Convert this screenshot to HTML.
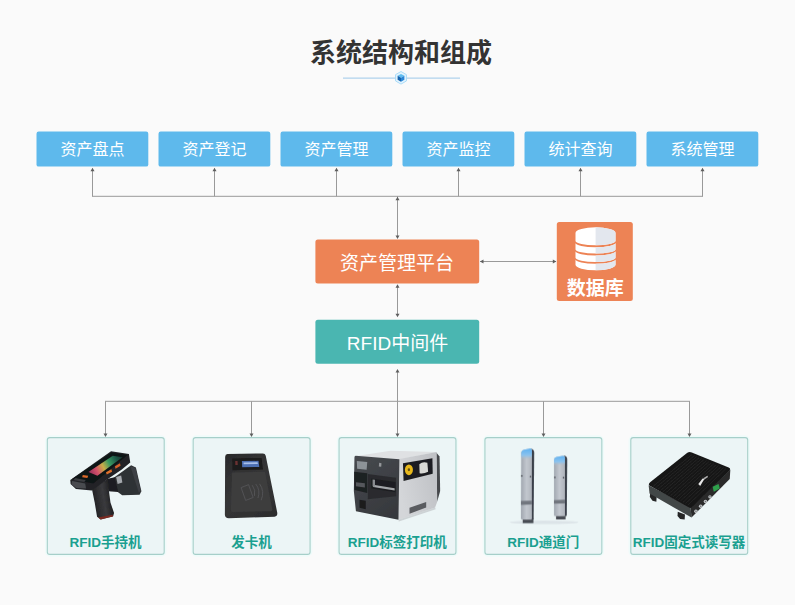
<!DOCTYPE html>
<html lang="zh"><head><meta charset="utf-8"><title>系统结构和组成</title>
<style>
html,body{margin:0;padding:0}
body{width:795px;height:605px;background:#fafafa;position:relative;overflow:hidden;font-family:"Liberation Sans",sans-serif;color:transparent}
h1{position:absolute;left:301px;top:36px;width:200px;margin:0;font-size:25px;line-height:34px;text-align:center;font-weight:bold;white-space:nowrap}
.box{position:absolute;box-sizing:border-box;border-radius:3px;text-align:center;white-space:nowrap;overflow:hidden}
  .top{font-size:16px;line-height:36px}
.dev{position:absolute;box-sizing:border-box;width:118px;height:118px;text-align:center;font-size:13.5px;font-weight:bold;white-space:nowrap;overflow:hidden}
.dev span{position:absolute;left:0;right:0;top:96px;line-height:18px}
svg{position:absolute;left:0;top:0}
svg text{font-family:"Liberation Sans","Noto Sans CJK SC",sans-serif}
</style></head>
<body>
<h1>系统结构和组成</h1>
<div class="box top" style="left:36.5px;top:131px;width:112px;height:36px;">资产盘点</div>
<div class="box top" style="left:158.5px;top:131px;width:112px;height:36px;">资产登记</div>
<div class="box top" style="left:280.5px;top:131px;width:112px;height:36px;">资产管理</div>
<div class="box top" style="left:402.5px;top:131px;width:112px;height:36px;">资产监控</div>
<div class="box top" style="left:524.5px;top:131px;width:112px;height:36px;">统计查询</div>
<div class="box top" style="left:646.5px;top:131px;width:112px;height:36px;">系统管理</div>
<div class="box" style="left:315.5px;top:239.5px;width:164px;height:44px;font-size:19px;line-height:44px;">资产管理平台</div>
<div class="box" style="left:315.5px;top:319.5px;width:164px;height:44px;font-size:19px;line-height:44px;">RFID中间件</div>
<div class="box" style="left:556.5px;top:222px;width:76.5px;height:79px;font-size:19px;line-height:30px;padding-top:0"><span style="position:absolute;left:0;right:0;top:50px">数据库</span></div>
<div class="dev" style="left:46.8px;top:436.5px;"><span>RFID手持机</span></div>
<div class="dev" style="left:192.7px;top:436.5px;"><span>发卡机</span></div>
<div class="dev" style="left:338.6px;top:436.5px;"><span>RFID标签打印机</span></div>
<div class="dev" style="left:484.4px;top:436.5px;"><span>RFID通道门</span></div>
<div class="dev" style="left:630.3px;top:436.5px;"><span>RFID固定式读写器</span></div>
<svg width="795" height="605" viewBox="0 0 795 605">
<defs><clipPath id="dbr"><rect x="595.6" y="220" width="30" height="60"/></clipPath></defs>
<rect x="36.5" y="131.5" width="111.8" height="35.1" rx="2.2" fill="#5eb9ec"/>
<rect x="158.5" y="131.5" width="111.8" height="35.1" rx="2.2" fill="#5eb9ec"/>
<rect x="280.5" y="131.5" width="111.8" height="35.1" rx="2.2" fill="#5eb9ec"/>
<rect x="402.5" y="131.5" width="111.8" height="35.1" rx="2.2" fill="#5eb9ec"/>
<rect x="524.5" y="131.5" width="111.8" height="35.1" rx="2.2" fill="#5eb9ec"/>
<rect x="646.5" y="131.5" width="111.8" height="35.1" rx="2.2" fill="#5eb9ec"/>
<rect x="315.4" y="239.6" width="163.8" height="43.8" rx="2.5" fill="#ed8355"/>
<rect x="315.4" y="319.7" width="163.8" height="44" rx="2.5" fill="#4ab6b1"/>
<rect x="556.8" y="222.1" width="76" height="79" rx="2.5" fill="#ed8355"/>
<rect x="47.30" y="437.6" width="116.9" height="116.8" rx="3" fill="none" stroke="#effbfa" stroke-width="4.5"/>
<rect x="47.30" y="437.6" width="116.9" height="116.8" rx="2.5" fill="#ecf5f6" stroke="#a6cfc9" stroke-width="1.1"/>
<rect x="193.18" y="437.6" width="116.9" height="116.8" rx="3" fill="none" stroke="#effbfa" stroke-width="4.5"/>
<rect x="193.18" y="437.6" width="116.9" height="116.8" rx="2.5" fill="#ecf5f6" stroke="#a6cfc9" stroke-width="1.1"/>
<rect x="339.05" y="437.6" width="116.9" height="116.8" rx="3" fill="none" stroke="#effbfa" stroke-width="4.5"/>
<rect x="339.05" y="437.6" width="116.9" height="116.8" rx="2.5" fill="#ecf5f6" stroke="#a6cfc9" stroke-width="1.1"/>
<rect x="484.93" y="437.6" width="116.9" height="116.8" rx="3" fill="none" stroke="#effbfa" stroke-width="4.5"/>
<rect x="484.93" y="437.6" width="116.9" height="116.8" rx="2.5" fill="#ecf5f6" stroke="#a6cfc9" stroke-width="1.1"/>
<rect x="630.80" y="437.6" width="116.9" height="116.8" rx="3" fill="none" stroke="#effbfa" stroke-width="4.5"/>
<rect x="630.80" y="437.6" width="116.9" height="116.8" rx="2.5" fill="#ecf5f6" stroke="#a6cfc9" stroke-width="1.1"/>
<text x="401" y="62" font-size="26" font-weight="bold" fill="#333333" text-anchor="middle">系统结构和组成</text>
<line x1="343" y1="78.1" x2="460" y2="78.1" stroke="#afd2ec" stroke-width="1.2"/>
<polygon points="401.00,71.50 406.46,74.65 406.46,80.95 401.00,84.10 395.54,80.95 395.54,74.65" fill="#e2f3fd" stroke="#a4d9f7" stroke-width="0.9"/>
<polygon points="401.00,73.90 404.38,75.85 401.00,77.80 397.62,75.85" fill="#5fbdf0"/>
<polygon points="397.62,75.85 401.00,77.80 401.00,81.70 397.62,79.75" fill="#1763ad"/>
<polygon points="401.00,77.80 404.38,75.85 404.38,79.75 401.00,81.70" fill="#2a86d6"/>
<text x="92.5" y="155" font-size="16" fill="#ffffff" text-anchor="middle">资产盘点</text>
<text x="214.5" y="155" font-size="16" fill="#ffffff" text-anchor="middle">资产登记</text>
<text x="336.5" y="155" font-size="16" fill="#ffffff" text-anchor="middle">资产管理</text>
<text x="458.5" y="155" font-size="16" fill="#ffffff" text-anchor="middle">资产监控</text>
<text x="580.5" y="155" font-size="16" fill="#ffffff" text-anchor="middle">统计查询</text>
<text x="702.5" y="155" font-size="16" fill="#ffffff" text-anchor="middle">系统管理</text>
<line x1="92.5" y1="168.5" x2="92.5" y2="196.3" stroke="#999999" stroke-width="1"/>
<polygon points="92.50,167.80 90.50,171.30 94.50,171.30" fill="#5e5e5e"/>
<line x1="214.5" y1="168.5" x2="214.5" y2="196.3" stroke="#999999" stroke-width="1"/>
<polygon points="214.50,167.80 212.50,171.30 216.50,171.30" fill="#5e5e5e"/>
<line x1="336.5" y1="168.5" x2="336.5" y2="196.3" stroke="#999999" stroke-width="1"/>
<polygon points="336.50,167.80 334.50,171.30 338.50,171.30" fill="#5e5e5e"/>
<line x1="458.5" y1="168.5" x2="458.5" y2="196.3" stroke="#999999" stroke-width="1"/>
<polygon points="458.50,167.80 456.50,171.30 460.50,171.30" fill="#5e5e5e"/>
<line x1="580.5" y1="168.5" x2="580.5" y2="196.3" stroke="#999999" stroke-width="1"/>
<polygon points="580.50,167.80 578.50,171.30 582.50,171.30" fill="#5e5e5e"/>
<line x1="702.5" y1="168.5" x2="702.5" y2="196.3" stroke="#999999" stroke-width="1"/>
<polygon points="702.50,167.80 700.50,171.30 704.50,171.30" fill="#5e5e5e"/>
<line x1="92" y1="196.3" x2="703" y2="196.3" stroke="#999999" stroke-width="1"/>
<line x1="397.5" y1="196.3" x2="397.5" y2="237" stroke="#999999" stroke-width="1"/>
<polygon points="397.50,196.70 395.50,200.20 399.50,200.20" fill="#5e5e5e"/>
<polygon points="397.50,238.90 395.50,235.40 399.50,235.40" fill="#5e5e5e"/>
<line x1="397.5" y1="286" x2="397.5" y2="315" stroke="#999999" stroke-width="1"/>
<polygon points="397.50,284.20 395.50,287.70 399.50,287.70" fill="#5e5e5e"/>
<polygon points="397.50,317.20 395.50,313.70 399.50,313.70" fill="#5e5e5e"/>
<line x1="480" y1="261.5" x2="556" y2="261.5" stroke="#999999" stroke-width="1"/>
<polygon points="480.00,261.50 483.50,259.50 483.50,263.50" fill="#5e5e5e"/>
<polygon points="556.30,261.50 552.80,259.50 552.80,263.50" fill="#5e5e5e"/>
<line x1="397.5" y1="371" x2="397.5" y2="401.3" stroke="#999999" stroke-width="1"/>
<polygon points="397.50,368.90 395.50,372.40 399.50,372.40" fill="#5e5e5e"/>
<line x1="105" y1="401.3" x2="690" y2="401.3" stroke="#999999" stroke-width="1"/>
<line x1="105.5" y1="401.3" x2="105.5" y2="434" stroke="#999999" stroke-width="1"/>
<polygon points="105.50,437.00 103.50,433.50 107.50,433.50" fill="#5e5e5e"/>
<line x1="251.5" y1="401.3" x2="251.5" y2="434" stroke="#999999" stroke-width="1"/>
<polygon points="251.50,437.00 249.50,433.50 253.50,433.50" fill="#5e5e5e"/>
<line x1="397.5" y1="401.3" x2="397.5" y2="434" stroke="#999999" stroke-width="1"/>
<polygon points="397.50,437.00 395.50,433.50 399.50,433.50" fill="#5e5e5e"/>
<line x1="543.5" y1="401.3" x2="543.5" y2="434" stroke="#999999" stroke-width="1"/>
<polygon points="543.50,437.00 541.50,433.50 545.50,433.50" fill="#5e5e5e"/>
<line x1="689.5" y1="401.3" x2="689.5" y2="434" stroke="#999999" stroke-width="1"/>
<polygon points="689.50,437.00 687.50,433.50 691.50,433.50" fill="#5e5e5e"/>
<text x="397" y="269.5" font-size="19" fill="#ffffff" text-anchor="middle">资产管理平台</text>
<text x="397.5" y="350.3" font-size="19" fill="#ffffff" text-anchor="middle">RFID中间件</text>
<text x="595.3" y="294.8" font-size="19" font-weight="bold" fill="#ffffff" text-anchor="middle">数据库</text>
<path fill="#ffffff" d="M575.5 232.9a20.0 5.6 0 0 1 40.0 0V241.1a20.0 4.2 0 0 1 -40.0 0zM575.5 243.0a20.0 4.2 0 0 0 40.0 0V249.4a20.0 4.2 0 0 1 -40.0 0zM575.5 251.3a20.0 4.2 0 0 0 40.0 0V257.7a20.0 4.2 0 0 1 -40.0 0zM575.5 259.6a20.0 4.2 0 0 0 40.0 0V264.8a20.0 5.5 0 0 1 -40.0 0z"/>
<path fill="#e3e7ee" clip-path="url(#dbr)" d="M575.5 232.9a20.0 5.6 0 0 1 40.0 0V241.1a20.0 4.2 0 0 1 -40.0 0zM575.5 243.0a20.0 4.2 0 0 0 40.0 0V249.4a20.0 4.2 0 0 1 -40.0 0zM575.5 251.3a20.0 4.2 0 0 0 40.0 0V257.7a20.0 4.2 0 0 1 -40.0 0zM575.5 259.6a20.0 4.2 0 0 0 40.0 0V264.8a20.0 5.5 0 0 1 -40.0 0z"/>
<text x="105.6" y="546.6" font-size="13.5" font-weight="bold" fill="#1aa090" text-anchor="middle">RFID手持机</text>
<text x="251.5" y="546.6" font-size="13.5" font-weight="bold" fill="#1aa090" text-anchor="middle">发卡机</text>
<text x="397.3" y="546.6" font-size="13.5" font-weight="bold" fill="#1aa090" text-anchor="middle">RFID标签打印机</text>
<text x="543.2" y="546.6" font-size="13.5" font-weight="bold" fill="#1aa090" text-anchor="middle">RFID通道门</text>
<text x="689.1" y="546.6" font-size="13.5" font-weight="bold" fill="#1aa090" text-anchor="middle">RFID固定式读写器</text>
<defs>
<linearGradient id="scr" x1="222" y1="230" x2="450" y2="110" gradientUnits="userSpaceOnUse">
<stop offset="0" stop-color="#8c2c58"/><stop offset=".22" stop-color="#d2506a"/><stop offset=".42" stop-color="#c9ae48"/><stop offset=".6" stop-color="#3a9a62"/><stop offset=".8" stop-color="#1f5a48"/><stop offset="1" stop-color="#16302c"/>
</linearGradient>
<linearGradient id="grip" x1="250" y1="400" x2="380" y2="380" gradientUnits="userSpaceOnUse">
<stop offset="0" stop-color="#232325"/><stop offset=".55" stop-color="#3a3a3d"/><stop offset="1" stop-color="#1c1c1e"/>
</linearGradient>
<filter id="b1" x="-10%" y="-10%" width="120%" height="120%"><feGaussianBlur stdDeviation="2.2"/></filter>
</defs>
<!-- handheld: zoom region [56,440,156,530] scale 6.72 -->
<g transform="translate(56,440) scale(0.148810)">
<g filter="url(#b1)">
<path d="M386 256L505 170L537 184L574 345L562 368L445 372L408 345Z" fill="#2f3134"/>
<path d="M500 176L534 188L570 345L556 352Z" fill="#3d4044"/>
<path d="M340 262L395 250L418 350L352 345Z" fill="#1d1e20"/>
<path d="M404 248L438 238L446 286L414 296Z" fill="#a5a9ae"/>
<path d="M240 322L350 260L354 330L366 420L390 490L384 512L300 534L276 516L260 420Z" fill="url(#grip)"/>
<path d="M284 521L381 503L383 514L300 535Z" fill="#7a2a22"/>
<path d="M96 268L370 76L490 94L499 152L440 200L350 260L240 340L134 330L98 296Z" fill="#222427"/>
<path d="M108 262L372 84L482 100L252 292L205 284Z" fill="#111315"/>
<path d="M218 215L382 106L447 116L278 240Z" fill="url(#scr)"/>
<path d="M108 276L196 292L202 326L136 322L104 298Z" fill="#484b50"/>
<path d="M128 256L200 268L190 282L118 268Z" fill="#3a3c40"/>
<path d="M180 236L216 241L211 256L176 251Z" fill="#d9692a"/>
<path d="M336 216L372 196L377 213L341 232Z" fill="#e0702a"/>
<path d="M396 176L430 156L434 173L400 194Z" fill="#d8622a"/>
</g>
</g>
<!-- card reader: zoom region [206,445,296,526] scale 7.4667 -->
<defs>
<linearGradient id="cr" x1="150" y1="70" x2="520" y2="540" gradientUnits="userSpaceOnUse">
<stop offset="0" stop-color="#2a2a2b"/><stop offset=".5" stop-color="#363637"/><stop offset="1" stop-color="#2c2c2d"/>
</linearGradient>
</defs>
<g transform="translate(206,445) scale(0.133929)">
<g filter="url(#b1)">
<path d="M160 68L425 63Q442 63 446 80L532 505Q536 532 512 536L170 546Q142 546 141 520L143 88Q144 68 160 68Z" fill="url(#cr)"/>
<path d="M195 205L440 200L495 480Q497 494 483 495L200 500Q186 500 186 486Z" fill="#3d3d3e"/>
<path d="M196 100L415 97L425 182L198 188Z" fill="#1c1a1a"/>
<path d="M268 120L392 118L398 164L270 166Z" fill="#4d6fb3"/>
<path d="M280 130L385 128L387 142L281 144Z" fill="#a9c0ea"/>
<path d="M218 120L236 120L237 150L219 150Z" fill="#6a3030"/>
<g fill="none" stroke="#58585a" stroke-width="6">
<path d="M262 318L318 296L352 392L296 414Z"/>
<path d="M345 300Q372 335 362 380"/><path d="M372 292Q408 338 388 396"/><path d="M400 290Q440 345 412 412"/>
</g>
</g>
</g>
<!-- printer: zoom region [347,442,447,532] scale 6.72 -->
<defs>
<linearGradient id="pside" x1="350" y1="300" x2="610" y2="250" gradientUnits="userSpaceOnUse">
<stop offset="0" stop-color="#d4d6d9"/><stop offset="1" stop-color="#c0c2c6"/>
</linearGradient>
<linearGradient id="pfront" x1="50" y1="100" x2="345" y2="500" gradientUnits="userSpaceOnUse">
<stop offset="0" stop-color="#474a4f"/><stop offset="1" stop-color="#35373b"/>
</linearGradient>
</defs>
<g transform="translate(347,442) scale(0.148810)">
<g filter="url(#b1)">
<path d="M600 70L622 98L626 330L606 402Z" fill="#45474b"/>
<path d="M52 96L292 58L602 68L352 116Z" fill="#dfe1e3"/>
<path d="M350 114L602 68L606 402L592 440L346 522Z" fill="url(#pside)"/>
<path d="M58 92Q50 94 50 104L46 330L60 466L346 522L352 116Z" fill="url(#pfront)"/>
<path d="M376 142L574 110L576 214L380 262Z" fill="#1e1f22"/>
<ellipse cx="416" cy="187" rx="27" ry="36" fill="#e8b81c"/>
<ellipse cx="416" cy="186" rx="8" ry="10" fill="#6b5410"/>
<path d="M486 150Q510 128 540 140L545 200Q515 215 488 210Z" fill="#d9d9d6"/>
<path d="M66 128L136 134L132 186L68 180Z" fill="#8d9398"/>
<path d="M48 200L136 210L136 342L50 322Z" fill="#1f2023"/>
<path d="M60 270L120 278L120 305L60 297Z" fill="#55585c"/>
<path d="M140 215L330 240L330 365L140 385Z" fill="#2a2c2f"/>
<path d="M163 246L326 268L326 338L163 312Z" fill="#1d1e20"/>
<path d="M176 288L320 310L320 326L176 302Z" fill="#a3a6aa"/>
<path d="M172 252L188 254L188 300L172 297Z" fill="#8a8d91"/>
<path d="M216 140L232 142L230 166L214 164Z" fill="#b8babd" opacity=".7"/>
<path d="M84 388L126 394L126 452L84 442Z" fill="#1b1c1e"/>
<path d="M420 442L532 404L532 440L420 482Z" fill="#5a5c60"/>
<path d="M346 522L592 440L596 452L348 534Z" fill="#b0b2b6" opacity=".5"/>
</g>
</g>
<!-- gate: zoom region [495,442,595,532] scale 6.72 -->
<defs>
<linearGradient id="gl" x1="175" y1="0" x2="250" y2="0" gradientUnits="userSpaceOnUse">
<stop offset="0" stop-color="#a2a8b1"/><stop offset=".5" stop-color="#c3c8cf"/><stop offset="1" stop-color="#aeb3bb"/>
</linearGradient>
<linearGradient id="gr" x1="395" y1="0" x2="470" y2="0" gradientUnits="userSpaceOnUse">
<stop offset="0" stop-color="#a2a8b1"/><stop offset=".5" stop-color="#c3c8cf"/><stop offset="1" stop-color="#aeb3bb"/>
</linearGradient>
<linearGradient id="gtop" x1="0" y1="0" x2="0" y2="1">
<stop offset="0" stop-color="#5fb2f2"/><stop offset=".6" stop-color="#8cc3ee"/><stop offset="1" stop-color="#b5bcc6" stop-opacity="0"/>
</linearGradient>
</defs>
<g transform="translate(495,442) scale(0.148810)">
<g filter="url(#b1)">
<ellipse cx="330" cy="540" rx="230" ry="12" fill="#d6dde2" opacity=".7"/>
<path d="M186 515L258 515L258 545L186 545Z" fill="#474b52"/>
<path d="M240 45Q262 48 263 70L259 520L245 520Z" fill="#3a3f49"/>
<path d="M176 75Q176 56 196 52L232 44Q248 42 248 60L246 522L180 522Q174 522 174 512Z" fill="url(#gl)"/>
<path d="M176 75Q176 56 196 52L232 44Q248 42 248 60L247 110L176 120Z" fill="url(#gtop)"/>
<path d="M174 396L247 394L247 420L174 422Z" fill="#71767e"/>
<circle cx="180" cy="228" r="5" fill="#2e3138"/><circle cx="238" cy="232" r="5" fill="#2e3138"/>
<path d="M410 492L474 492L474 520L410 520Z" fill="#474b52"/>
<path d="M462 92Q484 94 485 116L482 496L468 496Z" fill="#3a3f49"/>
<path d="M396 122Q396 104 414 100L452 93Q470 90 470 108L469 498L402 498Q396 498 396 488Z" fill="url(#gr)"/>
<path d="M396 122Q396 104 414 100L452 93Q470 90 470 108L469 150L396 160Z" fill="url(#gtop)"/>
<path d="M396 390L469 388L469 412L396 414Z" fill="#71767e"/>
<circle cx="402" cy="238" r="5" fill="#2e3138"/><circle cx="460" cy="240" r="5" fill="#2e3138"/>
</g>
</g>
<!-- fixed reader: zoom region [640,442,740,532] scale 6.72 -->
<g transform="translate(640,442) scale(0.148810)">
<g filter="url(#b1)">
<path d="M68 342L112 362L110 402L84 394L66 370Z" fill="#252627"/>
<path d="M254 468L302 488L300 520L270 518L252 498Z" fill="#252627"/>
<path d="M58 290L340 438L346 508L64 346Z" fill="#434647"/>
<path d="M340 438L607 184L603 248L346 508Z" fill="#2b2c2c"/>
<path d="M60 290Q56 280 68 270L318 72Q332 64 348 70L596 172Q610 178 604 190L346 440Q338 446 330 440Z" fill="#161616"/>
<path d="M87 299L348 85M104 308L365 92M121 317L381 98M138 326L398 105M154 334L414 112M171 343L430 118M188 352L447 125M205 361L463 132M222 370L479 139M239 379L496 146M256 388L512 152M272 396L528 159M289 405L545 166M306 414L561 172M323 423L578 179" stroke="#303030" stroke-width="4" fill="none"/>
<path d="M392 282L420 246L432 250L404 296Z" fill="#e8e8e8"/>
<path d="M424 244L452 226L458 236L430 254Z" fill="#cfcfcf" opacity=".8"/>
<path d="M488 300L528 282L536 312L496 334Z" fill="#2fa04c"/>
<g fill="#c2c5c8"><circle cx="376" cy="466" r="12"/><circle cx="408" cy="432" r="12"/><circle cx="440" cy="400" r="12"/><circle cx="470" cy="368" r="11"/></g>
<g fill="#6d7072"><circle cx="376" cy="466" r="5"/><circle cx="408" cy="432" r="5"/><circle cx="440" cy="400" r="5"/><circle cx="470" cy="368" r="5"/></g>
</g>
</g>

</svg>
</body></html>
